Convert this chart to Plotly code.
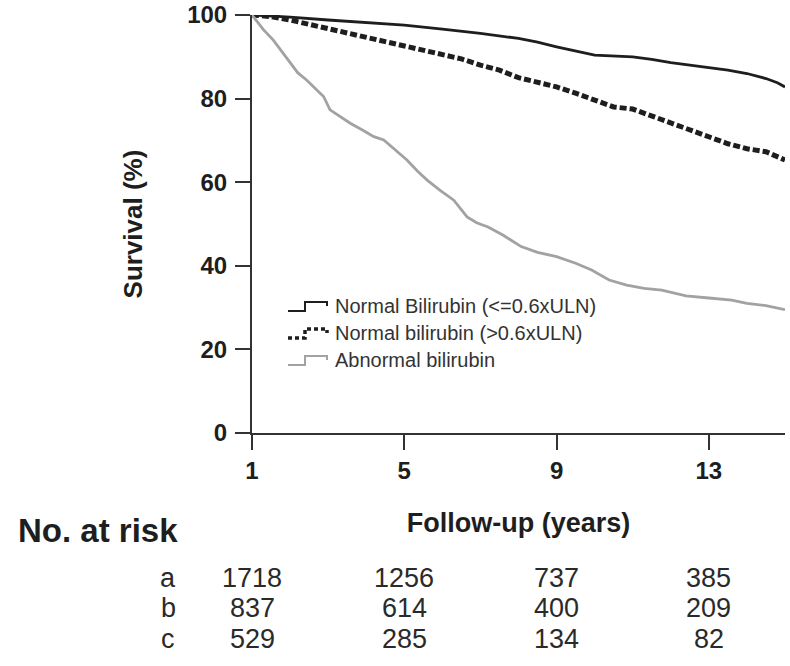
import plotly.graph_objects as go

# ---- data (years, survival %) ----
years_a = [1.0, 2.0, 3.0, 4.0, 5.0, 6.0, 7.0, 8.0, 8.5, 9.0, 9.5, 10.0, 11.0, 11.5,
           12.0, 12.5, 13.0, 13.5, 14.0, 14.5, 14.8, 15.0]
surv_a = [100, 99.5, 98.8, 98.2, 97.6, 96.6, 95.6, 94.4, 93.5, 92.4, 91.4, 90.4, 90.0, 89.4,
          88.6, 88.0, 87.4, 86.8, 86.0, 84.8, 83.8, 82.8]

years_b = [1.0, 1.5, 2.0, 2.5, 3.0, 3.5, 4.0, 4.5, 5.0, 5.5, 6.0, 6.5, 7.0, 7.5, 8.0, 8.5,
           9.0, 9.5, 10.0, 10.5, 11.0, 11.5, 12.0, 12.5, 13.0, 13.5, 14.0, 14.5, 15.0]
surv_b = [100, 99.6, 98.8, 97.8, 96.8, 95.8, 94.6, 93.6, 92.6, 91.6, 90.8, 89.5, 88.0, 86.8,
          85.0, 84.0, 82.8, 81.3, 79.5, 78.0, 77.5, 75.8, 74.2, 72.4, 70.8, 69.2, 68.0, 67.3, 65.3]

years_c = [1.0, 1.1, 1.3, 1.56, 1.8, 2.0, 2.2, 2.44, 2.7, 2.88, 3.05, 3.3, 3.58, 3.9, 4.2,
           4.46, 4.75, 5.07, 5.35, 5.6, 5.95, 6.3, 6.65, 6.9, 7.2, 7.6, 8.07, 8.5, 9.0, 9.5,
           9.92, 10.38, 10.84, 11.3, 11.76, 12.4, 13.0, 13.6, 14.0, 14.5, 15.0]
surv_c = [100, 98.8, 96.5, 94.0, 91.0, 88.4, 86.2, 84.4, 82.2, 80.5, 77.3, 75.8, 74.1, 72.5, 70.9,
          70.1, 67.8, 65.3, 62.6, 60.5, 58.0, 55.7, 51.7, 50.3, 49.3, 47.3, 44.6, 43.2, 42.2, 40.6,
          39.0, 36.6, 35.4, 34.6, 34.2, 32.8, 32.3, 31.8, 31.0, 30.5, 29.5]

series_names = ["Normal Bilirubin (<=0.6xULN)", "Normal bilirubin (>0.6xULN)", "Abnormal bilirubin"]
group_labels = ["a", "b", "c"]
risk_times = [1, 5, 9, 13]
risk_a = [1718, 1256, 737, 385]
risk_b = [837, 614, 400, 209]
risk_c = [529, 285, 134, 82]

FONT = "Liberation Sans, Arial, sans-serif"
INK = "#1e1e1e"
GRAY = "#a2a2a2"
styles = [dict(color=INK, width=2.8, dash="solid"),
          dict(color=INK, width=5, dash="7px,3px"),
          dict(color=GRAY, width=2.8, dash="solid")]

fig = go.Figure()
for xs, ys, name, st in zip([years_a, years_b, years_c], [surv_a, surv_b, surv_c], series_names, styles):
    fig.add_trace(go.Scatter(x=xs, y=ys, mode="lines", name=name, line=st, showlegend=False))

# page geometry (body margin removed by post_script, so page px == figure px)
PL, PW, PT, PH = 252, 533, 15, 418   # plot area in page pixels
def px2x(px):
    return (px - PL) / PW
def py2y(py):
    return (PT + PH - py) / PH

# ---- custom step-style legend ----
leg_rows = [306, 333, 360]
leg_cols = [INK, INK, GRAY]
leg_w = [2, 3.5, 2]
leg_dash = ["solid", "4px,3px", "solid"]
for row, name, col, w, d in zip(leg_rows, series_names, leg_cols, leg_w, leg_dash):
    x0, x1, x2 = px2x(288), px2x(305), px2x(327)
    ylo, yhi, ymid = py2y(row + 5), py2y(row - 4), py2y(row)
    fig.add_shape(type="path", xref="paper", yref="paper",
                  path=f"M {x0},{ylo} L {x1},{ylo} L {x1},{yhi} L {x2},{yhi} L {x2},{ymid}",
                  line=dict(color=col, width=w, dash=d))
    fig.add_annotation(xref="paper", yref="paper", x=px2x(333), y=py2y(row), text=name,
                       showarrow=False, xanchor="left", yanchor="middle",
                       font=dict(family=FONT, size=20, color="#333333"))

# ---- number at risk table ----
fig.add_annotation(xref="paper", yref="paper", x=px2x(16), y=py2y(530), text="<b>No. at risk</b>",
                   showarrow=False, xanchor="left", yanchor="middle",
                   font=dict(family=FONT, size=33, color=INK))
row_ys = [578, 608, 639]
for lab, vals, ry in zip(group_labels, [risk_a, risk_b, risk_c], row_ys):
    fig.add_annotation(xref="paper", yref="paper", x=px2x(168), y=py2y(ry), text=lab,
                       showarrow=False, xanchor="center", yanchor="middle",
                       font=dict(family=FONT, size=27, color="#2a2a2a"))
    for t, v in zip(risk_times, vals):
        fig.add_annotation(xref="x", yref="paper", x=t, y=py2y(ry), text=str(v),
                           showarrow=False, xanchor="center", yanchor="middle",
                           font=dict(family=FONT, size=27, color="#2a2a2a"))

fig.update_layout(
    width=790, height=666,
    margin=dict(l=PL, r=790 - PL - PW, t=PT, b=666 - PT - PH),
    paper_bgcolor="white", plot_bgcolor="white",
    font=dict(family=FONT, color=INK),
)
fig.update_xaxes(range=[1, 15], tickvals=risk_times, ticks="outside", ticklen=15, tickwidth=2,
                 tickcolor="#333333", showline=True, linewidth=2, linecolor="#333333",
                 showgrid=False, zeroline=False, ticklabeloverflow="allow", automargin=False,
                 tickfont=dict(family=FONT, size=24, color=INK, weight=700),
                 title=dict(text="<b>Follow-up (years)</b>", standoff=30,
                            font=dict(family=FONT, size=27, color=INK)))
fig.update_yaxes(range=[0, 100], tickvals=[0, 20, 40, 60, 80, 100], ticks="outside", ticklen=15,
                 tickwidth=2, tickcolor="#333333", showline=True, linewidth=2, linecolor="#333333",
                 showgrid=False, zeroline=False, ticklabelstandoff=3, ticklabeloverflow="allow",
                 automargin=False,
                 tickfont=dict(family=FONT, size=24, color=INK, weight=700),
                 title=dict(text="<b>Survival (%)</b>", standoff=37,
                            font=dict(family=FONT, size=26, color=INK)))

fig.write_html("out.html", config={"displayModeBar": False},
               post_script="document.body.style.margin='0';document.body.style.overflow='hidden';")
